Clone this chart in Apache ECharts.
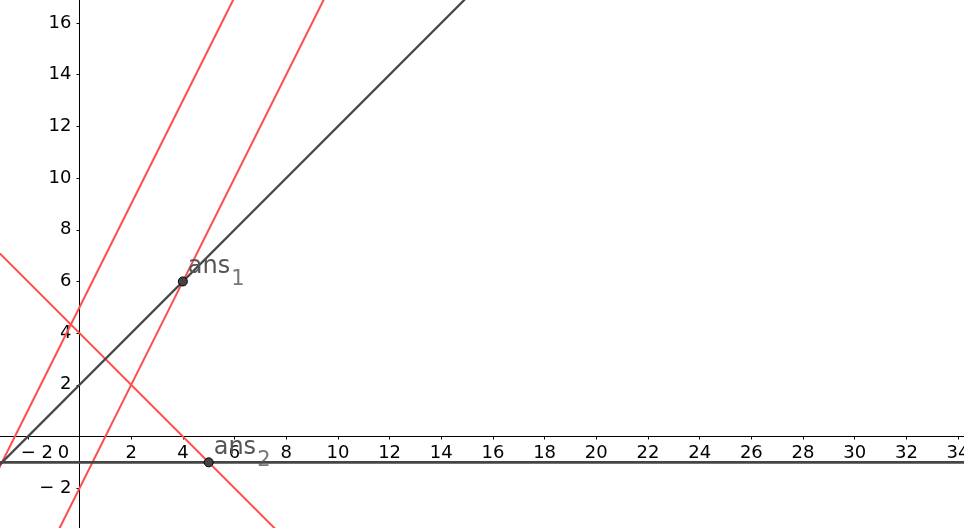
<!DOCTYPE html>
<html><head><meta charset="utf-8">
<script src="https://cdn.jsdelivr.net/npm/echarts@6/dist/echarts.min.js"></script>
<style>html,body{margin:0;padding:0;background:#fff}#c{width:964px;height:528px}</style>
</head><body><div id="c"></div>
<script>
// axis ranges (data units)
const xRange = [-3.077, 34.23];
const yRange = [-3.54, 16.89];
// tick labels
const xTickValues = [-2, 0, 2, 4, 6, 8, 10, 12, 14, 16, 18, 20, 22, 24, 26, 28, 30, 32, 34];
const yTickValues = [-2, 2, 4, 6, 8, 10, 12, 14, 16];
// lines, each given by two points (extended past the view)
const darkDiagonal = [[-4, -2], [18, 20]];
const darkHorizontal = [[-4, -1], [36, -1]];
const redLineA = [[-4, -3], [7, 19]];
const redLineB = [[-1, -4], [10, 18]];
const redLineC = [[-4, 8], [8, -4]];
// named points
const pointNames = ['ans', 'ans'];
const pointSubs = ['1', '2'];
const pointCoords = [[4, 6], [5, -1]];

const FONT = 'DejaVu Sans';
const RED = '#ff4d4d';
const DARK = '#454545';
const W = 964, H = 528;

const el = document.getElementById('c');
const chart = echarts.init(el, null, { renderer: 'canvas', width: W, height: H });

// pixel position of the origin follows from the ranges
const originX = W * (0 - xRange[0]) / (xRange[1] - xRange[0]);
const originY = H * (yRange[1] - 0) / (yRange[1] - yRange[0]);

function lineSeries(data, color, width) {
  return {
    type: 'line', xAxisIndex: 0, yAxisIndex: 0, data: data, showSymbol: false, symbol: 'none', clip: true,
    lineStyle: { color: color, width: width }, silent: true, z: 3
  };
}
const gridBase = { containLabel: false, outerBoundsMode: 'none', show: false };

chart.setOption({
  animation: false,
  backgroundColor: '#ffffff',
  grid: [
    Object.assign({ left: 0, right: 0, top: 0, bottom: 0 }, gridBase),
    Object.assign({ left: 0, right: 0, top: 0, bottom: H - originY }, gridBase),
    Object.assign({ left: originX, right: 0, top: 0, bottom: 0 }, gridBase)
  ],
  xAxis: [
    { type: 'value', gridIndex: 0, min: xRange[0], max: xRange[1], show: false },
    {
      type: 'value', gridIndex: 1, min: xRange[0], max: xRange[1], position: 'bottom',
      axisLine: { show: true, onZero: false, lineStyle: { color: '#000', width: 1 } },
      axisTick: { show: true, inside: false, length: 3, customValues: xTickValues.filter(v => v !== 0), lineStyle: { color: '#000' } },
      axisLabel: {
        show: true, customValues: xTickValues, margin: 8, showMinLabel: true, showMaxLabel: true, hideOverlap: false,
        fontFamily: FONT, fontSize: 18, color: '#000',
        formatter: function (v) {
          if (v === 0) return '{z|0}';
          if (v < 0) return '{n|\u2212 ' + Math.abs(v) + '}';
          return String(v);
        },
        rich: {
          z: { fontFamily: FONT, fontSize: 18, color: '#000', padding: [0, 32, 0, 0] },
          n: { fontFamily: FONT, fontSize: 18, color: '#000', padding: [0, 0, 0, 18] }
        }
      },
      splitLine: { show: false }
    },
    { type: 'value', gridIndex: 2, min: 0, max: 1, show: false }
  ],
  yAxis: [
    { type: 'value', gridIndex: 0, min: yRange[0], max: yRange[1], show: false },
    { type: 'value', gridIndex: 1, min: 0, max: 1, show: false },
    {
      type: 'value', gridIndex: 2, min: yRange[0], max: yRange[1], position: 'left',
      axisLine: { show: true, onZero: false, lineStyle: { color: '#000', width: 1 } },
      axisTick: { show: true, inside: false, length: 3, customValues: yTickValues, lineStyle: { color: '#000' } },
      axisLabel: {
        show: true, customValues: yTickValues, margin: 8, showMinLabel: true, showMaxLabel: true, hideOverlap: false,
        fontFamily: FONT, fontSize: 18, color: '#000',
        formatter: function (v) { return v < 0 ? '\u2212 ' + Math.abs(v) : String(v); }
      },
      splitLine: { show: false }
    }
  ],
  series: [
    lineSeries(redLineA, RED, 2),
    lineSeries(redLineB, RED, 2),
    lineSeries(redLineC, RED, 2),
    lineSeries(darkDiagonal, DARK, 2.2),
    lineSeries(darkHorizontal, DARK, 2.6),
    {
      type: 'scatter', xAxisIndex: 0, yAxisIndex: 0, z: 5, symbol: 'circle', symbolSize: 9,
      data: pointCoords.map(p => p.slice()),
      itemStyle: { color: '#444', borderColor: '#000', borderWidth: 1, opacity: 1 },
      label: {
        show: true, position: 'right', distance: 0, offset: [0, -15],
        fontFamily: FONT, fontSize: 24, color: '#555555',
        formatter: p => pointNames[p.dataIndex]
      }
    },
    {
      type: 'scatter', xAxisIndex: 0, yAxisIndex: 0, z: 5, symbol: 'circle', symbolSize: 9, silent: true,
      data: pointCoords.map(p => p.slice()),
      itemStyle: { color: 'rgba(0,0,0,0)', borderWidth: 0 },
      label: {
        show: true, position: 'right', distance: 0, offset: [44, -2],
        fontFamily: FONT, fontSize: 21, color: '#555555',
        formatter: p => pointSubs[p.dataIndex]
      }
    }
  ]
});
</script>
</body></html>
